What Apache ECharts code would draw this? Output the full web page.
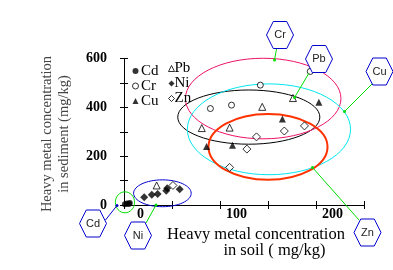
<!DOCTYPE html>
<html>
<head>
<meta charset="utf-8">
<script src="https://cdn.jsdelivr.net/npm/echarts@6/dist/echarts.min.js"></script>
<style>
  html, body { margin: 0; padding: 0; background: #fff; }
  #main { width: 393px; height: 270px; }
</style>
</head>
<body>
<div id="main"></div>
<script>
// concentration in soil (x) vs in sediment (y), mg/kg
var cd = [[1, 3], [3, 6], [5, 4], [6, 8]];
var cr = [[90, 395], [112, 409], [142, 491], [194, 547]];
var cu = [[86, 240], [113, 245], [165, 352], [203, 421]];
var pb = [[34, 80], [81, 315], [110, 317], [144, 402], [176, 438]];
var ni = [[21, 32], [29, 42], [35, 45], [44, 58], [45, 69], [58, 65]];
var zn = [[51, 80], [110, 154], [128, 229], [138, 279], [167, 303], [188, 324]];

// group outlines: centre x, centre y, radius x, radius y (data units)
var groups = [
  [1, 11, 10, 43],      // Cd
  [40, 48, 30, 55],     // Ni
  [130, 360, 74, 111],  // Pb
  [145, 436, 81, 165],  // Cr
  [151, 310, 85, 186],  // Cu
  [150, 238, 62, 135]   // Zn
];
var groupColors = ['#00dd00', '#0000cc', '#000000', '#ee1166', '#00e5ee', '#ff3300'];
var groupWidths = [1, 1, 1, 1, 1, 2];

var xTicks = [0, 100, 200];
var yTicks = [0, 200, 400, 600];

var serif = 'Liberation Serif';
var chart = echarts.init(document.getElementById('main'));

var solid = { color: '#000' };
var hollow = { color: '#fff', borderColor: '#000', borderWidth: 1 };

function scatter(name, data, symbol, size, open) {
  return {
    name: name,
    type: 'scatter',
    data: data,
    symbol: symbol,
    symbolSize: size,
    z: 5,
    itemStyle: open ? hollow : solid
  };
}

function legendItem(name, icon, open) {
  return { name: name, icon: icon, itemStyle: open ? hollow : solid };
}

// hexagon callouts (pixel layout)
var callouts = [
  { t: 'Cr', cx: 280, cy: 35, from: [276.5, 49], to: [274.5, 60], c: '#00dd00' },
  { t: 'Pb', cx: 319, cy: 59, from: [309, 73], to: [294.5, 97.5], c: '#00dd00' },
  { t: 'Cu', cx: 379.5, cy: 71.5, from: [372, 84], to: [344.5, 111.5], c: '#00dd00' },
  { t: 'Cd', cx: 93, cy: 223.5, from: [105.5, 220], to: [117, 205.5], c: '#0000cc' },
  { t: 'Ni', cx: 138, cy: 235.5, from: [146, 223], to: [156, 205], c: '#00dd00' },
  { t: 'Zn', cx: 367.5, cy: 232.5, from: [359, 220], to: [312.5, 167.5], c: '#00dd00' }
];

var graphics = [];
callouts.forEach(function (k) {
  var w = 13.5, h = 13.5;
  graphics.push({
    type: 'line', z: 10,
    shape: { x1: k.from[0], y1: k.from[1], x2: k.to[0], y2: k.to[1] },
    style: { stroke: k.c, lineWidth: 1 }
  });
  graphics.push({
    type: 'circle', z: 10,
    shape: { cx: k.to[0], cy: k.to[1], r: 1.5 },
    style: { fill: k.c }
  });
  graphics.push({
    type: 'polygon', z: 11,
    shape: { points: [[k.cx - w, k.cy], [k.cx - w / 2, k.cy - h], [k.cx + w / 2, k.cy - h],
                      [k.cx + w, k.cy], [k.cx + w / 2, k.cy + h], [k.cx - w / 2, k.cy + h]] },
    style: { fill: '#fff', stroke: '#0000cc', lineWidth: 1 }
  });
  graphics.push({
    type: 'text', z: 12, x: k.cx, y: k.cy,
    style: { text: k.t, font: '11px Liberation Sans', fill: '#222',
             textAlign: 'center', textVerticalAlign: 'middle' }
  });
});

// axis titles
graphics.push(
  { type: 'text', x: 47, y: 134, rotation: Math.PI / 2,
    style: { text: 'Heavy metal concentration', font: '14.5px ' + serif, fill: '#444',
             textAlign: 'center', textVerticalAlign: 'middle' } },
  { type: 'text', x: 64, y: 134, rotation: Math.PI / 2,
    style: { text: 'in sediment (mg/kg)', font: '14.5px ' + serif, fill: '#444',
             textAlign: 'center', textVerticalAlign: 'middle' } },
  { type: 'text', x: 256, y: 235,
    style: { text: 'Heavy metal concentration', font: '16.5px ' + serif, fill: '#000',
             textAlign: 'center', textVerticalAlign: 'middle' } },
  { type: 'text', x: 274.5, y: 250.5,
    style: { text: 'in soil ( mg/kg)', font: '16.5px ' + serif, fill: '#000',
             textAlign: 'center', textVerticalAlign: 'middle' } }
);

chart.setOption({
  animation: false,
  grid: { left: 124, right: 29, top: 58.5, bottom: 65 },
  legend: [
    { data: [legendItem('Cd', 'circle', false), legendItem('Cr', 'circle', true), legendItem('Cu', 'triangle', false)],
      orient: 'vertical', left: 132, top: 63.5, padding: 0,
      itemWidth: 6, itemHeight: 6, itemGap: 0, selectedMode: false,
      textStyle: { fontFamily: serif, fontSize: 15, lineHeight: 14.5, color: '#000', padding: [0, 0, 0, -2.5] } },
    { data: [legendItem('Pb', 'triangle', true), legendItem('Ni', 'diamond', false), legendItem('Zn', 'diamond', true)],
      orient: 'vertical', left: 168, top: 61, padding: 0,
      itemWidth: 6, itemHeight: 6, itemGap: 0, selectedMode: false,
      textStyle: { fontFamily: serif, fontSize: 15, lineHeight: 15, color: '#000', padding: [0, 0, 0, -5] } }
  ],
  xAxis: [
    {
      type: 'value', min: 0, max: 250, interval: 50,
      axisLine: { lineStyle: { color: '#000', width: 1 } },
      axisTick: { inside: true, length: 4, lineStyle: { color: '#000' } },
      splitLine: { show: false },
      axisLabel: {
        margin: 2, padding: [0, 0, 0, 33],
        fontFamily: serif, fontSize: 14, fontWeight: 'bold', color: '#000',
        formatter: function (v) { return xTicks.indexOf(v) >= 0 ? String(v) : ''; }
      }
    },
    {
      type: 'value', position: 'top', min: 0, max: 250, interval: 50,
      axisLine: { show: true, lineStyle: { color: '#000', width: 1 } },
      axisTick: { inside: true, length: 4, lineStyle: { color: '#000' } },
      axisLabel: { show: false }, splitLine: { show: false }
    }
  ],
  yAxis: [
    {
      type: 'value', min: 0, max: 600, interval: 100,
      axisLine: { show: true, lineStyle: { color: '#000', width: 1 } },
      axisTick: { show: true, inside: true, length: 4, lineStyle: { color: '#000' } },
      splitLine: { show: false },
      axisLabel: {
        margin: 17, fontFamily: serif, fontSize: 14, fontWeight: 'bold', color: '#000',
        formatter: function (v) { return yTicks.indexOf(v) >= 0 ? String(v) : ''; }
      }
    },
    {
      type: 'value', position: 'right', min: 0, max: 600, interval: 100,
      axisLine: { show: true, lineStyle: { color: '#000', width: 1 } },
      axisTick: { show: true, inside: true, length: 4, lineStyle: { color: '#000' } },
      axisLabel: { show: false }, splitLine: { show: false }
    }
  ],
  series: [
    {
      type: 'custom',
      name: 'groups',
      data: groups,
      z: 2,
      clip: false,
      silent: true,
      renderItem: function (params, api) {
        var c = api.coord([api.value(0), api.value(1)]);
        var s = api.size([api.value(2), api.value(3)]);
        var i = params.dataIndex;
        return {
          type: 'ellipse',
          shape: { cx: c[0], cy: c[1], rx: s[0], ry: s[1] },
          style: { fill: 'none', stroke: groupColors[i], lineWidth: groupWidths[i] }
        };
      }
    },
    scatter('Cd', cd, 'circle', 6, false),
    scatter('Cr', cr, 'circle', 6, true),
    scatter('Cu', cu, 'triangle', 7, false),
    scatter('Pb', pb, 'triangle', 7, true),
    scatter('Ni', ni, 'diamond', 8, false),
    scatter('Zn', zn, 'diamond', 8, true)
  ],
  graphic: graphics
});
</script>
</body>
</html>
